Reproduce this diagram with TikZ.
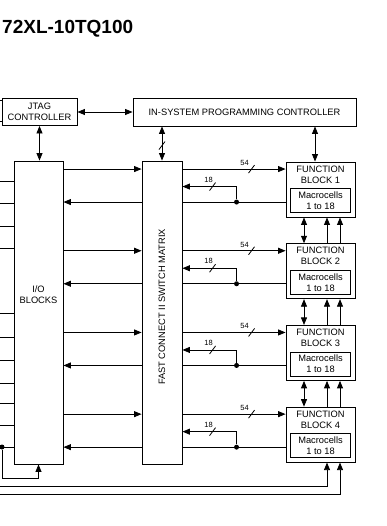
\documentclass[tikz,border=0pt]{standalone}
\usepackage{fontspec}
\setmainfont{Liberation Sans}
\usetikzlibrary{arrows.meta,positioning,calc}
\begin{document}
\begin{tikzpicture}[x=1pt,y=-1pt,
  box/.style={draw,line width=0.9pt,fill=white,inner sep=0pt,align=center,font=\fontsize{9.3}{11}\selectfont},
  ln/.style={line width=0.8pt},
  arr/.style={ln,-{Triangle[length=7.5pt,width=6pt]}},
  darr/.style={ln,{Triangle[length=7.5pt,width=6pt]}-{Triangle[length=7.5pt,width=6pt]}},
  txt/.style={font=\fontsize{9.3}{11}\selectfont,align=center,inner sep=0pt},
  lbl/.style={font=\fontsize{7.5}{8}\selectfont,inner sep=0pt},
  dot/.style={circle,fill=black,inner sep=0pt,minimum size=5pt},
  slashmark/.pic={\draw[line width=0.8pt] (-3pt,-4pt) -- (3pt,4pt);}
]
\useasboundingbox (0,0) rectangle (387,526);
% title
\node[anchor=base west,inner sep=0pt,font=\fontsize{19}{22}\selectfont\bfseries] (title) at (2,34) {72XL-10TQ100};
% top boxes
\node[box,minimum width=75pt,minimum height=27pt] (jtag) at (39.5,112) {JTAG\\CONTROLLER};
\node[box,minimum width=223pt,minimum height=28pt] (isp) at (244.5,112) {IN-SYSTEM PROGRAMMING CONTROLLER};
% main columns
\node[box,minimum width=49pt,minimum height=303pt] (io) at (38.5,312.5) {};
\node[txt] (iot) at (38.5,295) {I/O\\BLOCKS};
\node[box,minimum width=40pt,minimum height=303pt] (fcsm) at (162,312.5) {};
\node[txt,rotate=90] (fcsmt) at (162,307) {FAST CONNECT II SWITCH MATRIX};
% function blocks
\foreach \k/\yc in {1/189.5,2/271.2,3/352.9,4/434.6}{
  \node[box,minimum width=69pt,minimum height=55pt] (fb\k) at (320.5,\yc) {};
  \node[txt,anchor=north] (fbt\k) at ([yshift=-4pt]fb\k.north) {FUNCTION\\BLOCK \k};
  \node[box,line width=0.8pt,minimum width=60pt,minimum height=24pt] (mc\k) at ([yshift=-39pt]fb\k.north) {Macrocells\\1 to 18};
  \coordinate (a\k) at ([yshift=-7.5pt]fb\k.north west);
  \coordinate (b\k) at ([xshift=-49pt,yshift=-25pt]fb\k.north west);
  \coordinate (c\k) at ([yshift=-40.5pt]fb\k.north west);
  \coordinate (d\k) at ([xshift=-49pt,yshift=-40.5pt]fb\k.north west);
  % IO -> FCSM, FCSM -> FB (54)
  \draw[arr] (io.east |- a\k) -- (fcsm.west |- a\k);
  \draw[arr] (fcsm.east |- a\k) -- (a\k);
  \pic at ([xshift=-34pt]a\k) {slashmark};
  \node[lbl] (l54\k) at ([xshift=-41pt,yshift=6pt]a\k) {54};
  % FB -> IO (via dot)
  \draw[ln] (c\k) -- (fcsm.east |- c\k);
  \draw[arr] (fcsm.west |- c\k) -- (io.east |- c\k);
  \node[dot] (dt\k) at (d\k) {};
  % feedback 18
  \draw[arr] (dt\k) -- (b\k) -- (fcsm.east |- b\k);
  \pic at ([xshift=-24pt]b\k) {slashmark};
  \node[lbl] (l18\k) at ([xshift=-28pt,yshift=7pt]b\k) {18};
}
% between function blocks
\foreach \k/\n in {1/2,2/3,3/4}{
  \draw[darr] ([xshift=-16.5pt]fb\k.south) -- ([xshift=-16.5pt]fb\n.north);
  \draw[arr] ([xshift=6.5pt]fb\n.north) -- ([xshift=6.5pt]fb\k.south);
  \draw[arr] ([xshift=19.5pt]fb\n.north) -- ([xshift=19.5pt]fb\k.south);
}
% top connections
\draw[darr] (jtag.east) -- (isp.west);
\draw[darr] (jtag.south) -- (jtag.south |- io.north);
\draw[darr] (isp.south -| fcsm.north) -- (fcsm.north);
\pic at ([yshift=15pt]fcsm.north) {slashmark};
\draw[darr] ([xshift=-5.5pt]fb1.north |- isp.south) -- ([xshift=-5.5pt]fb1.north);
% left stubs
\coordinate (e0) at (0,100);
\coordinate (e1) at (0,121);
\draw[ln] (e0) -- (jtag.west |- e0);
\draw[ln] (e1) -- (jtag.west |- e1);
\foreach \y in {181,203,226,248,313,337,360,383,403,425}{
  \coordinate (s\y) at (0,\y);
  \draw[ln] (s\y) -- (io.west |- s\y);
}
\coordinate (s447) at (0,447);
\node[dot] (dl) at (2,447) {};
\draw[ln] (s447) -- (io.west |- s447);
\draw[arr] (dl) |- ([yshift=-14pt]io.south) -- (io.south);
% global lines to FB4
\coordinate (g1) at (0,486);
\coordinate (g2) at (0,494);
\draw[arr] (g1) -| ([xshift=6.5pt]fb4.south);
\draw[arr] (g2) -| ([xshift=19.5pt]fb4.south);
\end{tikzpicture}
\end{document}
